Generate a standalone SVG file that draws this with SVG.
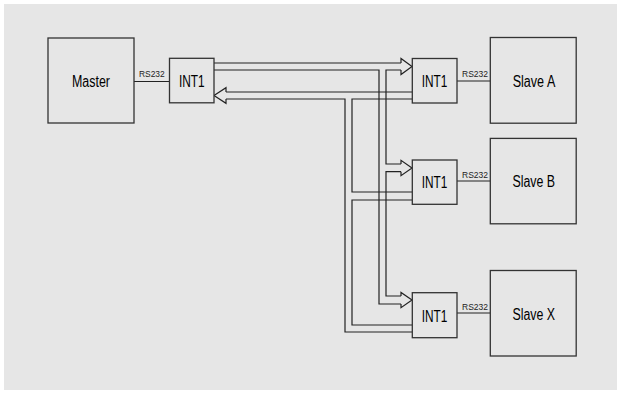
<svg xmlns="http://www.w3.org/2000/svg" width="621" height="394" viewBox="0 0 621 394">
<style>
.box{fill:#e6e6e6;stroke:#333;stroke-width:1.3}
.lbl{font-family:"Liberation Sans",Arial,sans-serif;font-size:16px;fill:#000}
.sm{font-family:"Liberation Sans",Arial,sans-serif;font-size:9.5px;fill:#222}
.ln{fill:none;stroke:#222;stroke-width:1.2;stroke-linejoin:miter}
</style>
<rect x="0" y="0" width="621" height="394" fill="#fff"/>
<rect x="4" y="4" width="613" height="386" fill="#e6e6e6"/>
<g id="connectors">
  <line class="ln" x1="134" y1="81.5" x2="169.5" y2="81.5"/>
  <line class="ln" x1="457" y1="81" x2="490" y2="81"/>
  <line class="ln" x1="457" y1="181" x2="490" y2="181"/>
  <line class="ln" x1="457" y1="313" x2="490" y2="313"/>
  <text class="sm" x="139" y="76.7" textLength="25.7" lengthAdjust="spacingAndGlyphs">RS232</text>
  <text class="sm" x="462" y="77" textLength="26" lengthAdjust="spacingAndGlyphs">RS232</text>
  <text class="sm" x="462" y="177.5" textLength="26" lengthAdjust="spacingAndGlyphs">RS232</text>
  <text class="sm" x="462" y="310" textLength="26" lengthAdjust="spacingAndGlyphs">RS232</text>
  <polyline class="ln" points="214,63 401,63"/>
  <polyline class="ln" points="214,70 379,70 379,304 401,304"/>
  <polyline class="ln" points="401,70 386,70 386,164 401,164"/>
  <polyline class="ln" points="401,171.7 386,171.7 386,296 401,296"/>
  <polyline class="ln" points="401,63 401,58.5 412,66.5 401,74.5 401,70"/>
  <polyline class="ln" points="401,164 401,160.3 412,168 401,175.7 401,171.7"/>
  <polyline class="ln" points="401,296 401,292.5 412,300 401,307.7 401,304"/>
  <polyline class="ln" points="412,92 226,92"/>
  <polyline class="ln" points="226,99 345,99 345,332 412,332"/>
  <polyline class="ln" points="412,99 352,99 352,192 412,192"/>
  <polyline class="ln" points="412,200 352,200 352,325 412,325"/>
  <polyline class="ln" points="226,92 226,87.7 214,95.5 226,103.3 226,99"/>
</g>
<g id="master">
  <rect class="box" x="48" y="38" width="86" height="85"/>
  <text class="lbl" x="72" y="87" textLength="38" lengthAdjust="spacingAndGlyphs">Master</text>
</g>
<g id="int1-master">
  <rect class="box" x="169.5" y="58.3" width="44.5" height="44.5"/>
  <text class="lbl" x="179" y="86.7" textLength="25.7" lengthAdjust="spacingAndGlyphs">INT1</text>
</g>
<g id="int1-a">
  <rect class="box" x="412.3" y="58.5" width="44.7" height="44.5"/>
  <text class="lbl" x="421.7" y="86.7" textLength="25.7" lengthAdjust="spacingAndGlyphs">INT1</text>
</g>
<g id="int1-b">
  <rect class="box" x="412.3" y="160" width="44.7" height="44.3"/>
  <text class="lbl" x="421.7" y="187.7" textLength="25.7" lengthAdjust="spacingAndGlyphs">INT1</text>
</g>
<g id="int1-x">
  <rect class="box" x="412.3" y="292.7" width="44.7" height="45"/>
  <text class="lbl" x="421.7" y="321.5" textLength="25.7" lengthAdjust="spacingAndGlyphs">INT1</text>
</g>
<g id="slave-a">
  <rect class="box" x="490.3" y="37.5" width="85.9" height="85.7"/>
  <text class="lbl" x="512.7" y="87" textLength="42.6" lengthAdjust="spacingAndGlyphs">Slave A</text>
</g>
<g id="slave-b">
  <rect class="box" x="490.3" y="138.4" width="85.9" height="85.4"/>
  <text class="lbl" x="512.5" y="187.4" textLength="42.6" lengthAdjust="spacingAndGlyphs">Slave B</text>
</g>
<g id="slave-x">
  <rect class="box" x="490.3" y="270.5" width="85.9" height="85.5"/>
  <text class="lbl" x="512.5" y="319.5" textLength="42.6" lengthAdjust="spacingAndGlyphs">Slave X</text>
</g>
</svg>
